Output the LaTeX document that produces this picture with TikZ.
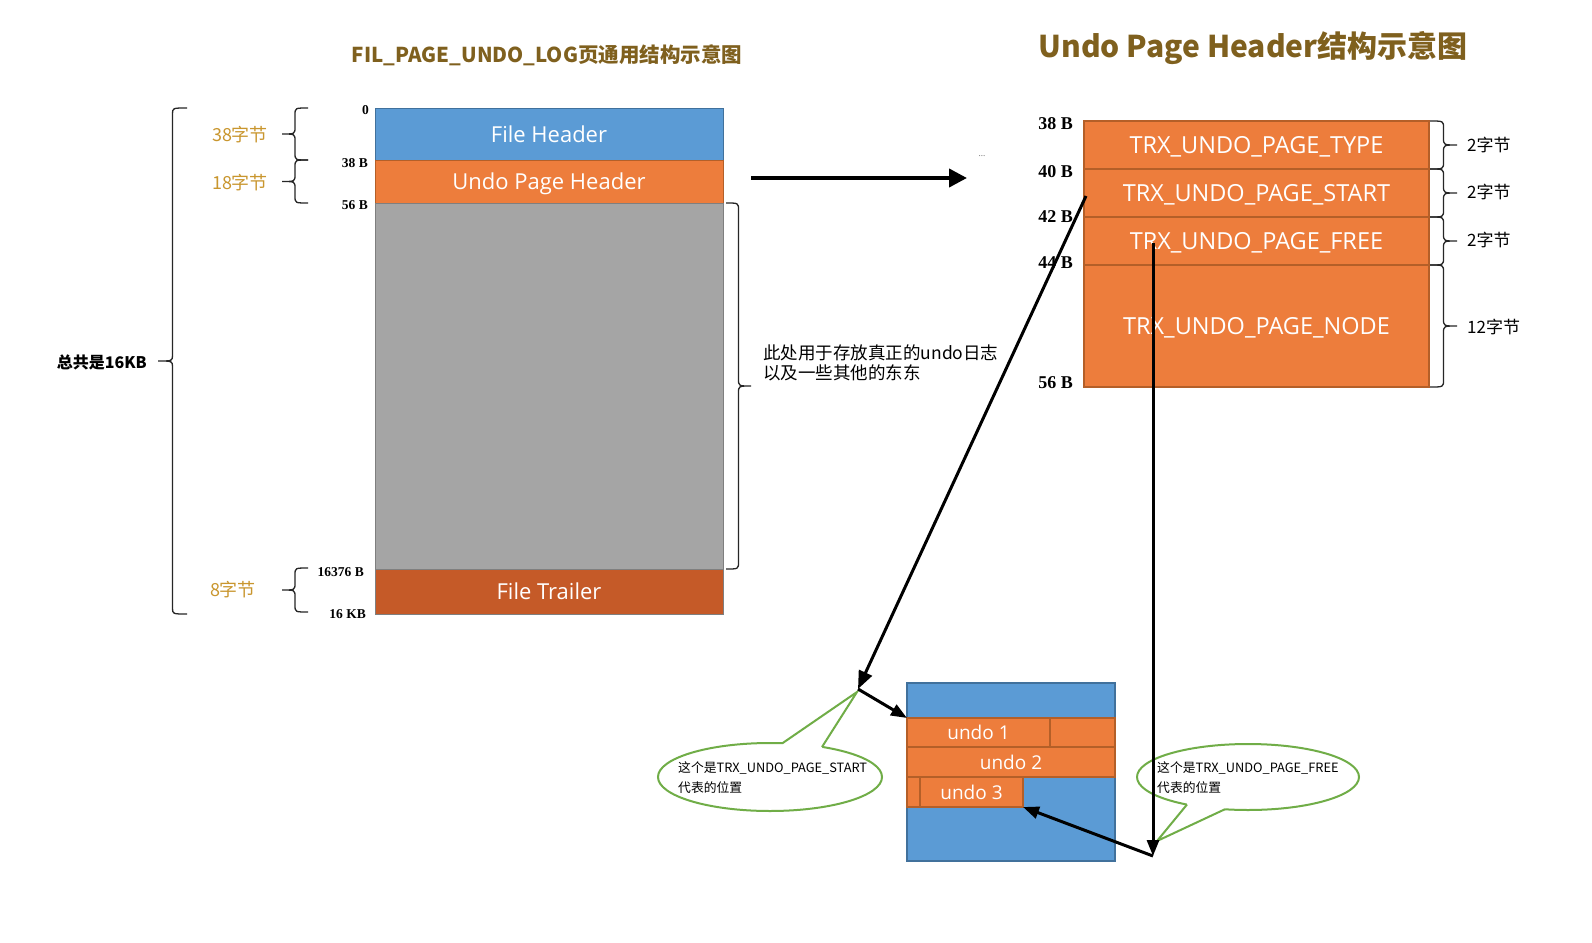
\documentclass[tikz,border=0pt]{standalone}
\usepackage{fontspec}
\setmainfont{Liberation Serif}
\newfontfamily\cjk{Noto Sans CJK SC}
\newfontfamily\osans{Open Sans}
\usetikzlibrary{arrows.meta,shapes.geometric}
\definecolor{pblue}{RGB}{91,155,213}
\definecolor{pblueb}{RGB}{65,113,156}
\definecolor{porange}{RGB}{237,125,60}
\definecolor{porangeb}{RGB}{180,95,40}
\definecolor{pgray}{RGB}{165,165,165}
\definecolor{pgrayb}{RGB}{127,127,127}
\definecolor{ptrail}{RGB}{197,90,40}
\definecolor{ttl}{RGB}{127,96,30}
\definecolor{gold}{RGB}{201,150,46}
\definecolor{cgreen}{RGB}{112,173,71}
\newcommand{\mybrace}[5]{%
  \draw[brc] (#1,#3) .. controls ({(#1+#2)/2},#3) .. ({(#1+#2)/2},{#3+#5})
    -- ({(#1+#2)/2},{(#3+#4)/2-#5}) .. controls ({(#1+#2)/2},{(#3+#4)/2}) .. (#2,{(#3+#4)/2})
    .. controls ({(#1+#2)/2},{(#3+#4)/2}) .. ({(#1+#2)/2},{(#3+#4)/2+#5})
    -- ({(#1+#2)/2},{#4-#5}) .. controls ({(#1+#2)/2},#4) .. (#1,#4);}
\begin{document}
\begin{tikzpicture}[x=1pt,y=-1pt,
  box/.style={draw, inner sep=0pt, outer sep=0pt, anchor=north west, line width=1pt, text=white, text depth=0pt},
  pgtxt/.style={font=\osans\fontsize{22}{24}\selectfont},
  hdtxt/.style={font=\osans\fontsize{23.5}{26}\selectfont, text height=17pt},
  udtxt/.style={font=\osans\fontsize{19}{21}\selectfont},
  offl/.style={anchor=east, inner sep=0pt, font=\bfseries\fontsize{13.5}{14}\selectfont},
  offr/.style={anchor=east, inner sep=0pt, font=\bfseries\fontsize{18}{18}\selectfont},
  goldl/.style={inner sep=0pt, text=gold, font=\cjk\fontsize{18}{18}\selectfont},
  szr/.style={anchor=west, inner sep=0pt, font=\cjk\fontsize{17}{17}\selectfont},
  brc/.style={draw=black!85, line width=1.3pt},
  arr/.style={line width=3pt, -{Triangle[length=18pt,width=14pt]}},
  arrs/.style={line width=3pt, -{Triangle[length=16pt,width=12pt]}},
  coell/.style={ellipse, draw=cgreen, line width=2pt, fill=white, inner sep=0pt},
  cotxt/.style={anchor=west, align=left, inner sep=0pt, font=\cjk\fontsize{12.8}{20}\selectfont}
]
\useasboundingbox[fill=white] (0,0) rectangle (1592,942);

% titles
\node[text=ttl, font=\cjk\bfseries\fontsize{20.5}{22}\selectfont] (t1) at (547,55) {FIL\_PAGE\_UNDO\_LOG页通用结构示意图};
\node[text=ttl, font=\cjk\bfseries\fontsize{30}{32}\selectfont] (t2) at (1253,48) {Undo Page Header结构示意图};

% left page
\node[box, fill=pblue, draw=pblueb, minimum width=348pt, minimum height=52pt, pgtxt] (fh) at (375,108) {File Header};
\node[box, fill=porange, draw=porangeb, minimum width=348pt, minimum height=43pt, pgtxt] (uph) at (375,160) {Undo Page Header};
\node[box, fill=pgray, draw=pgrayb, minimum width=348pt, minimum height=366pt] (body) at (375,203) {};
\node[box, fill=ptrail, draw=pgrayb, minimum width=348pt, minimum height=45pt, pgtxt] (ft) at (375,569) {File Trailer};

\node[offl] (o0) at (369,110) {0};
\node[offl] (o38) at (368,163) {38 B};
\node[offl] (o56) at (368,205) {56 B};
\node[offl] (o16376) at (364,572) {16376 B};
\node[offl] (o16k) at (366,614) {16 KB};

\mybrace{308}{282}{108}{160}{7}
\mybrace{308}{282}{160}{203}{7}
\mybrace{308}{282}{568}{612}{7}
\node[goldl] (g38) at (240,135) {38字节};
\node[goldl] (g18) at (240,183) {18字节};
\node[goldl] (g8) at (233,590) {8字节};

\mybrace{187}{158}{108}{614}{6}
\node[anchor=east, inner sep=0pt, font=\cjk\bfseries\fontsize{16}{17}\selectfont] (tot) at (147,362) {总共是16KB};

\mybrace{726}{751}{203}{569}{7}
\node[anchor=west, inner sep=0pt, font=\cjk\fontsize{17.5}{18}\selectfont] (d1) at (763,353) {此处用于存放真正的undo日志};
\node[anchor=west, inner sep=0pt, font=\cjk\fontsize{17.5}{18}\selectfont] (d2) at (763,373) {以及一些其他的东东};

% main arrow
\coordinate (ma) at (751,178);
\coordinate (mb) at (967,178);
\draw[line width=4pt, -{Triangle[length=18pt,width=18pt]}] (ma) -- (mb);
\node[text=black!60, font=\fontsize{9}{9}\selectfont] (dots) at (982,156) {...};

% right header
\node[box, fill=porange, draw=porangeb, line width=2.5pt, minimum width=345pt, minimum height=48pt, hdtxt] (h1) at (1084,121) {TRX\_UNDO\_PAGE\_TYPE};
\node[box, fill=porange, draw=porangeb, line width=2.5pt, minimum width=345pt, minimum height=48pt, hdtxt] (h2) at (1084,169) {TRX\_UNDO\_PAGE\_START};
\node[box, fill=porange, draw=porangeb, line width=2.5pt, minimum width=345pt, minimum height=48pt, hdtxt] (h3) at (1084,217) {TRX\_UNDO\_PAGE\_FREE};
\node[box, fill=porange, draw=porangeb, line width=2.5pt, minimum width=345pt, minimum height=122pt, hdtxt] (h4) at (1084,265) {TRX\_UNDO\_PAGE\_NODE};

\node[offr] (r38) at (1073,124) {38 B};
\node[offr] (r40) at (1073,172) {40 B};
\node[offr] (r42) at (1073,217) {42 B};
\node[offr] (r44) at (1073,263) {44 B};
\node[offr] (r56) at (1073,383) {56 B};

\mybrace{1430}{1457}{121}{169}{7}
\mybrace{1430}{1457}{169}{217}{7}
\mybrace{1430}{1457}{217}{265}{7}
\mybrace{1430}{1457}{265}{387}{7}
\node[szr] (s1) at (1467,145) {2字节};
\node[szr] (s2) at (1467,192) {2字节};
\node[szr] (s3) at (1467,240) {2字节};
\node[szr] (s4) at (1467,327) {12字节};

% bottom undo page
\node[box, fill=pblue, draw=pblueb, line width=1.5pt, minimum width=208pt, minimum height=178pt] (ub) at (907,683) {};
\node[box, fill=porange, draw=porangeb, line width=1.5pt, minimum width=143pt, minimum height=29pt, udtxt] (u1) at (907,718) {undo 1};
\node[box, fill=porange, draw=porangeb, line width=1.5pt, minimum width=65pt, minimum height=29pt] (u1b) at (1050,718) {};
\node[box, fill=porange, draw=porangeb, line width=1.5pt, minimum width=208pt, minimum height=30pt, udtxt] (u2) at (907,747) {undo 2};
\node[box, fill=porange, draw=porangeb, line width=1.5pt, minimum width=13pt, minimum height=30pt] (u3a) at (907,777) {};
\node[box, fill=porange, draw=porangeb, line width=1.5pt, minimum width=103pt, minimum height=30pt, udtxt] (u3) at (920,777) {undo 3};

% callouts
\node[coell, minimum width=224pt, minimum height=68pt] (c1) at (770,777) {};
\coordinate (c1p) at (857,692);
\fill[white] (782,743.5) -- (c1p) -- (822,747) -- (822,752) -- (782,748) -- cycle;
\draw[cgreen, line width=2pt, line join=miter] (782,743.5) -- (c1p) -- (822,747);
\node[cotxt] (c1t) at (678,778) {这个是TRX\_UNDO\_PAGE\_START\\代表的位置};

\node[coell, minimum width=222pt, minimum height=66pt] (c2) at (1248,777) {};
\coordinate (c2p) at (1157,841);
\fill[white] (1187,804.5) -- (c2p) -- (1225,809.2) -- (1225,804) -- (1187,800) -- cycle;
\draw[cgreen, line width=2pt, line join=miter] (1187,804.5) -- (c2p) -- (1225,809.2);
\node[cotxt] (c2t) at (1157,778) {这个是TRX\_UNDO\_PAGE\_FREE\\代表的位置};

% pointer arrows
\coordinate (sa) at (1086,196);
\coordinate (sb) at (858,689);
\draw[arr] (sa) -- (sb);
\draw[arrs] (sb) -- (u1.north west);
\coordinate (fa) at (1153,243);
\coordinate (fb) at (1153,856);
\draw[arrs] (fa) -- (fb);
\draw[arrs] (fb) -- (u3.south east);
\end{tikzpicture}
\end{document}
